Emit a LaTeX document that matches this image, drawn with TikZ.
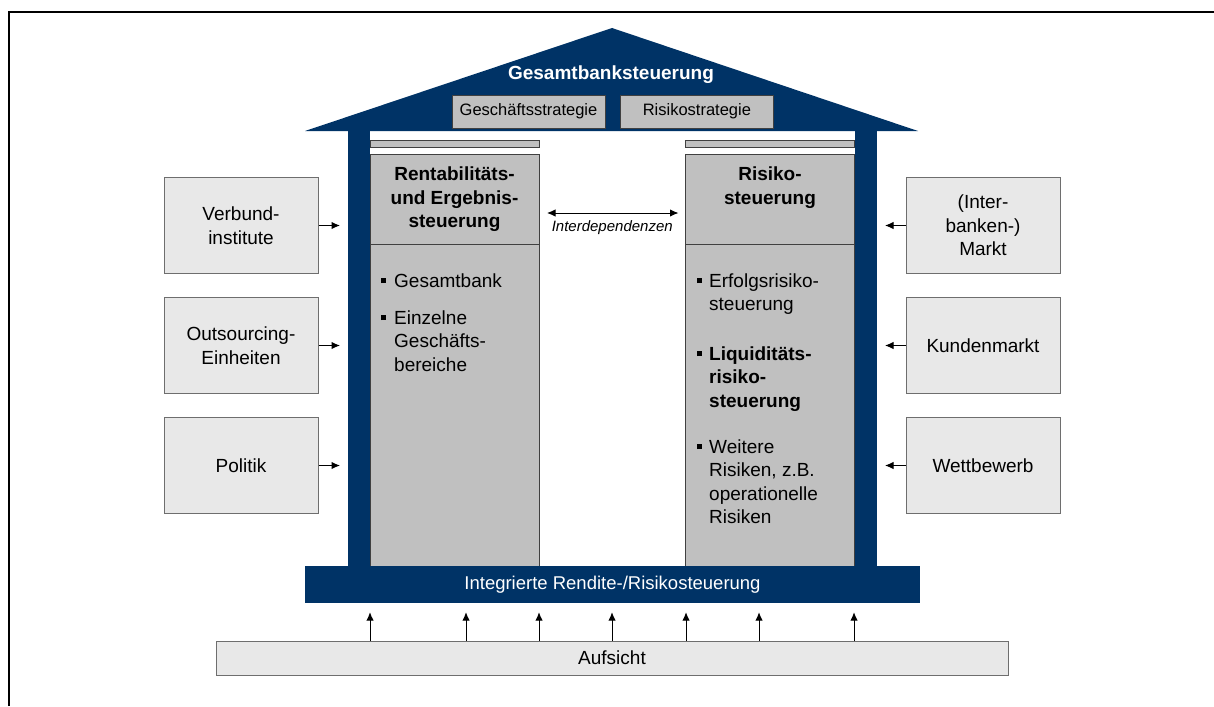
\documentclass[tikz,border=0pt]{standalone}
\usepackage{fontspec}
\setmainfont{Liberation Sans}
\usetikzlibrary{positioning, arrows.meta, calc}
\definecolor{navy}{RGB}{0,51,102}
\definecolor{colgray}{RGB}{192,192,192}
\definecolor{boxgray}{RGB}{232,232,232}
\definecolor{linegray}{RGB}{110,110,110}
\definecolor{edgegray}{RGB}{64,64,64}
\newcommand{\sqb}{\rule[0.2em]{5pt}{5pt}}
\tikzset{
  house/.style={
	x=1pt, y=-1pt, % one unit is one pixel of the picture
	font=\fontsize{19}{23.5}\selectfont,
	>={Latex[length=8.5pt,width=7.5pt]}, % small filled tips
  },
  frame/.style={line width=2pt},
  link/.style={line width=1pt},
  pillar/.style={fill=navy, inner sep=0pt, outer sep=0pt, minimum width=22pt, minimum height=435pt},
  bar/.style={draw=edgegray, fill=colgray, inner sep=0pt, outer sep=0pt, minimum width=169pt, minimum height=7pt},
  colhead/.style={draw=edgegray, fill=colgray, inner sep=0pt, outer sep=0pt, minimum width=169pt, minimum height=90pt},
  colbody/.style={colhead, minimum height=322pt},
  coltitle/.style={inner sep=0pt, align=center, font=\bfseries\fontsize{19}{23.5}\selectfont},
  listitem/.style={inner sep=0pt, anchor=base west},
  strat/.style={draw=edgegray, fill=colgray, inner sep=0pt, minimum width=153pt, minimum height=33pt, font=\fontsize{16.5}{20}\selectfont},
  sidebox/.style={draw=linegray, fill=boxgray, line width=1pt, inner sep=0pt, minimum width=154pt, minimum height=96pt, align=center},
  basebox/.style={fill=navy, text=white, inner sep=0pt, minimum width=615pt, minimum height=37pt, font=\fontsize{18.5}{22}\selectfont},
}

\begin{document}
\begin{tikzpicture}[house]
	  \useasboundingbox (0,0) rectangle (1214,706);
	  \draw[frame] (8.5,706) -- (8.5,12.5) -- (1214,12.5);
	  % roof
	  \fill[navy] (305,131) -- (612,28) -- (918,131) -- cycle;
	  \node[text=white, font=\bfseries\fontsize{19}{23}\selectfont] (gbs) at (611,75) {Gesamtbanksteuerung};
	  \node[strat] (gstrat) at (528.5,111.5) {Geschäftsstrategie};
	  \node[strat, right=15pt of gstrat] (rstrat) {Risikostrategie};
	  % pillars and columns
	  \node[pillar] (lpil) at (359,348.5) {};
	  \node[pillar] (rpil) at (866,348.5) {};
	  \node[bar] (lbar) at (454.5,143.5) {};
	  \node[bar] (rbar) at (770,143.5) {};
	  \node[colhead] (lhead) at (454.5,199) {};
	  \node[colhead] (rhead) at (770,199) {};
	  \node[colbody, below=0pt of lhead] (lbody) {};
	  \node[colbody, below=0pt of rhead] (rbody) {};
	  \node[coltitle, below=13pt of lhead.north] (ltitle) {Rentabilitäts-\\und Ergebnis-\\steuerung};
	  \node[coltitle, below=13pt of rhead.north] (rtitle) {Risiko-\\steuerung};
	  \node[listitem] (l1) at (381,287) {\begin{tabular}[t]{@{}l@{\hspace{8pt}}l@{}}\sqb & Gesamtbank\end{tabular}};
	  \node[listitem] (l2) at (381,324) {\begin{tabular}[t]{@{}l@{\hspace{8pt}}l@{}}\sqb & Einzelne\\ & Geschäfts-\\ & bereiche\end{tabular}};
	  \node[listitem] (r1) at (697,287) {\begin{tabular}[t]{@{}l@{\hspace{7pt}}l@{}}\sqb & Erfolgsrisiko-\\ & steuerung\end{tabular}};
	  \node[listitem] (r2) at (697,360) {\begin{tabular}[t]{@{}l@{\hspace{7pt}}l@{}}\sqb & \textbf{Liquiditäts-}\\ & \textbf{risiko-}\\ & \textbf{steuerung}\end{tabular}};
	  \node[listitem] (r3) at (697,453) {\begin{tabular}[t]{@{}l@{\hspace{7pt}}l@{}}\sqb & Weitere\\ & Risiken, z.B.\\ & operationelle\\ & Risiken\end{tabular}};
	  % foundation
	  \node[basebox] (base) at (612.5,584.5) {Integrierte Rendite-/Risikosteuerung};
	  \node[sidebox, minimum width=792pt, minimum height=34pt] (aufs) at (612,658) {Aufsicht};
	  % outside influences
	  \node[sidebox] (verb) at (241,225.5) {Verbund-\\institute};
	  \node[sidebox, below=23pt of verb] (outs) {Outsourcing-\\Einheiten};
	  \node[sidebox, below=23pt of outs] (polit) {Politik};
	  \node[sidebox] (imarkt) at (983,225.5) {(Inter-\\banken-)\\Markt};
	  \node[sidebox, below=23pt of imarkt] (kmarkt) {Kundenmarkt};
	  \node[sidebox, below=23pt of kmarkt] (wettb) {Wettbewerb};
	  \draw[link, ->, shorten >=8pt] (verb.east) -- (verb.east -| lpil.west);
	  \draw[link, ->, shorten >=8pt] (outs.east) -- (outs.east -| lpil.west);
	  \draw[link, ->, shorten >=8pt] (polit.east) -- (polit.east -| lpil.west);
	  \draw[link, ->, shorten >=8pt] (imarkt.west) -- (imarkt.west -| rpil.east);
	  \draw[link, ->, shorten >=8pt] (kmarkt.west) -- (kmarkt.west -| rpil.east);
	  \draw[link, ->, shorten >=8pt] (wettb.west) -- (wettb.west -| rpil.east);
	  \draw[link, <->, shorten <=8pt, shorten >=7pt] (lhead.east |- 0,213) -- (rhead.west |- 0,213)
		  node[midway, below=4pt, font=\itshape\fontsize{15}{18}\selectfont] (idep) {Interdependenzen};
	  \foreach \px in {370,466,539,612,686,759,854}
		  \draw[link, ->, shorten >=9pt] (aufs.north -| \px,0) -- (base.south -| \px,0);
\end{tikzpicture}
\end{document}
